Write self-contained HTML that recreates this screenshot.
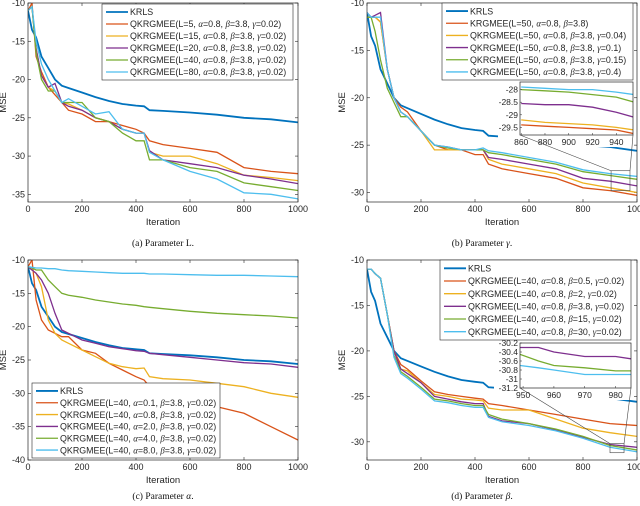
<!DOCTYPE html>
<html><head><meta charset="utf-8"><style>
html,body{margin:0;padding:0;background:#fff;}
svg{display:block;font-family:"Liberation Sans",sans-serif;}
</style></head><body>
<svg id="fig" width="640" height="506" viewBox="0 0 640 506" xmlns="http://www.w3.org/2000/svg"></svg>
<script>
const iters = [0,15,30,50,75,100,125,150,200,250,300,350,400,430,450,500,600,700,800,900,1000];
const colors = ['#0072BD','#D95319','#EDB120','#7E2F8E','#77AC30','#4DBEEE'];
const krls = [-11,-13.5,-14.5,-17,-18.5,-20,-20.8,-21.1,-21.7,-22.3,-22.8,-23.2,-23.4,-23.5,-24,-24.1,-24.3,-24.6,-25,-25.2,-25.6];
// Panel a
const aL5  = [-11,-10,-17,-19,-21,-22,-23,-24,-24.5,-25.5,-25.5,-26,-26.5,-27,-28,-28.5,-29,-29.5,-31.5,-32,-32.3];
const aL15 = [-11,-10.5,-16,-19.5,-21,-21.5,-23,-23.2,-24,-25,-25.5,-26.5,-27,-27,-29.5,-30,-30,-31,-32.5,-32.8,-33.2];
const aL20 = [-11,-10.5,-16,-19.5,-21,-20.5,-23,-23.5,-24,-25,-25.5,-26.5,-27,-27,-29.3,-30.5,-31,-31.5,-32.5,-33,-33.6];
const aL40 = [-11,-10.5,-16.5,-20,-21.5,-21.5,-23,-23,-23,-25,-25.5,-27,-28,-28,-30.5,-30.5,-31.5,-32,-33.5,-34,-34.5];
const aL80 = [-11,-10.5,-15,-18,-20,-21.5,-23,-22.5,-23.5,-24.5,-24.2,-26.5,-27,-27,-29.5,-30.5,-32,-33,-34.8,-35,-35.6];
// Panel b
const bK   = [-11.5,-11.5,-11.5,-12,-17,-20,-21,-21.5,-23.5,-25,-25.5,-25.5,-26,-26,-27,-27.5,-28,-28.5,-29.5,-29.8,-30.3];
const bG04 = [-11.5,-11.5,-11.5,-12,-17,-20,-21.5,-22,-23.5,-25.5,-25.5,-25.5,-25.5,-25.5,-26.5,-27,-27.5,-28,-29,-29.5,-30];
const bG1  = [-11,-11.5,-11.3,-11,-17,-20,-21.5,-22,-23.5,-25,-25.2,-25.5,-25.5,-25.5,-26.3,-26.5,-27,-27.5,-28.5,-28.8,-29.3];
const bG15 = [-11.5,-11.5,-13,-16,-19,-20.5,-22,-22,-23.5,-25,-25.3,-25.5,-25.5,-25.5,-25.8,-26,-26.5,-27,-27.8,-28.2,-28.6];
const bG4  = [-11,-11.5,-11.5,-11.5,-17,-20,-21.5,-22,-23.5,-25,-25.2,-25.5,-25.5,-25.3,-25.6,-25.8,-26.3,-26.8,-27.6,-28,-28.3];
const bInsetX = [860,880,900,920,940,955];
const bInK   = [-29.4,-29.45,-29.5,-29.55,-29.6,-29.75];
const bInG04 = [-29.2,-29.3,-29.35,-29.4,-29.5,-29.6];
const bInG1  = [-28.55,-28.6,-28.6,-28.7,-28.9,-29.1];
const bInG15 = [-28,-28.05,-28.1,-28.2,-28.3,-28.5];
const bInG4  = [-27.9,-27.95,-28,-28,-28.1,-28.2];
// Panel c
const cA01 = [-11,-10,-16,-19,-20.5,-21,-21.5,-21.5,-23.5,-24,-25.5,-26.5,-27.5,-28,-29,-30,-31,-32,-33,-35,-37];
const cA08 = [-11,-11.5,-12,-14,-19,-21,-22,-22.5,-23.5,-24.5,-25.5,-26,-26.3,-26.2,-27.5,-27.8,-28,-28.5,-29,-30,-30.6];
const cA2  = [-11,-11.5,-12,-13,-15,-18,-20.5,-21,-22,-22.5,-23,-23.3,-23.6,-23.7,-24,-24.2,-24.6,-25,-25.4,-25.6,-26.1];
const cA4  = [-11,-11.2,-11.5,-11.5,-13,-14,-15,-15.3,-15.6,-16,-16.3,-16.6,-16.8,-17,-17.1,-17.3,-17.7,-18,-18.2,-18.4,-18.7];
const cA8  = [-11,-11.1,-11.2,-11.2,-11.3,-11.3,-11.5,-11.6,-11.7,-11.8,-11.9,-12,-12,-12,-12.1,-12.1,-12.2,-12.3,-12.3,-12.4,-12.5];
// Panel d
const dB05 = [-11,-11,-11.5,-12,-16,-20,-21.5,-22,-23.3,-24.5,-24.8,-25,-25.2,-25.3,-25.8,-26,-26.5,-27,-27.5,-28,-28.2];
const dB2  = [-11,-11,-11.5,-12,-16,-20,-22,-22.2,-23.5,-24.8,-25,-25.3,-25.4,-25.5,-26.3,-26.5,-26.5,-27.5,-28.5,-29,-29.4];
const dB38 = [-11,-11,-11.5,-12,-16,-20,-22,-22.5,-23.5,-25,-25.3,-25.6,-25.8,-25.8,-27.2,-27.7,-28,-28.7,-29.5,-30.3,-30.6];
const dB15 = [-11,-11,-11.5,-12,-16,-20.5,-22.3,-22.8,-24,-25.3,-25.5,-25.8,-26,-26,-27,-27.5,-28,-28.6,-29.4,-30.4,-30.9];
const dB30 = [-11,-11,-11.5,-12,-16,-20.7,-22.5,-23,-24.2,-25.5,-25.7,-26,-26.2,-26.2,-27.3,-27.8,-28.2,-28.8,-29.6,-30.6,-31.1];
const dInsetX = [949,955,960,970,980,985];
const dInB38 = [-30.3,-30.3,-30.4,-30.5,-30.5,-30.55];
const dInB15 = [-30.45,-30.6,-30.7,-30.75,-30.82,-30.82];
const dInB30 = [-30.7,-30.75,-30.8,-30.9,-30.9,-30.9];

const NS='http://www.w3.org/2000/svg';
const fig=document.getElementById('fig');
function mk(tag,attrs,parent){const e=document.createElementNS(NS,tag);for(const k in attrs)e.setAttribute(k,attrs[k]);(parent||fig).appendChild(e);return e;}
function drawText(parent,x,y,str,opts){
  const t=mk('text',Object.assign({x:x,y:y,'font-size':9,fill:'#262626'},opts||{}),parent);
  const parts=str.split(/([αβγ])/);
  parts.forEach(p=>{if(!p)return;const ts=mk('tspan',{},t);if(/[αβγ]/.test(p)){ts.setAttribute('font-style','italic');ts.setAttribute('font-family','Liberation Serif');}ts.textContent=p;});
  return t;
}

function panel(cfg){
  const g=mk('g',{});
  
  
  const L=cfg.L,R=cfg.R,T=cfg.T,B=cfg.B;
  const sx=v=>L+(v-cfg.x0)/(cfg.x1-cfg.x0)*(R-L);
  const sy=v=>T+(cfg.y1-v)/(cfg.y1-cfg.y0)*(B-T);
  mk('rect',{x:L,y:T,width:R-L,height:B-T,fill:'#fff'},g);
  const clip='clip'+cfg.id;
  const cp=mk('clipPath',{id:clip},g);mk('rect',{x:L,y:T,width:R-L,height:B-T},cp);
  cfg.yt.forEach(v=>{const y=sy(v);mk('line',{x1:L,x2:L+3,y1:y,y2:y,stroke:'#262626','stroke-width':0.6},g);mk('line',{x1:R,x2:R-3,y1:y,y2:y,stroke:'#262626','stroke-width':0.6},g);
    const t=mk('text',{x:L-3,y:y+3,'font-size':9,'text-anchor':'end',fill:'#262626'},g);t.textContent=v;});
  cfg.xt.forEach(v=>{const x=sx(v);mk('line',{x1:x,x2:x,y1:B,y2:B-3,stroke:'#262626','stroke-width':0.6},g);mk('line',{x1:x,x2:x,y1:T,y2:T+3,stroke:'#262626','stroke-width':0.6},g);
    const t=mk('text',{x:x,y:B+10,'font-size':9,'text-anchor':'middle',fill:'#262626'},g);t.textContent=v;});
  const cg=mk('g',{'clip-path':'url(#'+clip+')'},g);
  cfg.series.forEach((s,i)=>{
    const d=s.map((v,j)=>(j?'L':'M')+sx(iters[j]).toFixed(1)+','+sy(v).toFixed(1)).join('');
    const p=mk('path',{d:d,fill:'none',stroke:colors[i],'stroke-width':i==0?1.8:1.3},cg);
    
  });
  if(cfg.zoomRect){const z=cfg.zoomRect;mk('rect',{x:sx(z[0]),y:sy(z[2]),width:sx(z[1])-sx(z[0]),height:sy(z[3])-sy(z[2]),fill:'none',stroke:'#444','stroke-width':0.6},g);}
  mk('rect',{x:L,y:T,width:R-L,height:B-T,fill:'none',stroke:'#262626','stroke-width':0.7},g);
  const yl=mk('text',{x:cfg.ylx,y:(T+B)/2,'font-size':9.5,'text-anchor':'middle',fill:'#262626',transform:`rotate(-90 ${cfg.ylx} ${(T+B)/2})`},g);
  yl.textContent='MSE';
  const xl=mk('text',{x:(L+R)/2,y:B+23,'font-size':9.5,'text-anchor':'middle',fill:'#262626'},g);
  xl.textContent='Iteration';
  if(cfg.inset){const n=cfg.inset;
    const ix=v=>n.L+(v-n.x0)/(n.x1-n.x0)*(n.R-n.L), iy=v=>n.T+(n.y1-v)/(n.y1-n.y0)*(n.B-n.T);
    const z=cfg.zoomRect;
    const ig=mk('g',{},g);
    mk('rect',{x:n.L-n.pad,y:n.T-3,width:n.R-n.L+n.pad,height:n.B-n.T+15,fill:'#fff'},ig);
    mk('line',{x1:sx(z[0]),y1:sy(z[2]),x2:n.L,y2:n.B,stroke:'#444','stroke-width':0.6},g);
    mk('line',{x1:sx(z[1]),y1:sy(z[2]),x2:n.R,y2:n.B,stroke:'#444','stroke-width':0.6},g);
    const ic='iclip'+cfg.id;const icp=mk('clipPath',{id:ic},ig);mk('rect',{x:n.L,y:n.T,width:n.R-n.L,height:n.B-n.T},icp);
    const icg=mk('g',{'clip-path':'url(#'+ic+')'},ig);
    n.series.forEach((s,i)=>{if(!s)return;const d=s.map((v,j)=>(j?'L':'M')+ix(n.xs[j]).toFixed(1)+','+iy(v).toFixed(1)).join('');
      const p=mk('path',{d:d,fill:'none',stroke:colors[i],'stroke-width':1.3},icg);});
    n.yt.forEach(v=>{const t=mk('text',{x:n.L-2,y:iy(v)+3,'font-size':8.5,'text-anchor':'end',fill:'#262626'},ig);t.textContent=v;
      mk('line',{x1:n.L,x2:n.L+2,y1:iy(v),y2:iy(v),stroke:'#262626','stroke-width':0.5},ig);});
    n.xt.forEach(v=>{const t=mk('text',{x:ix(v),y:n.B+10,'font-size':8.5,'text-anchor':'middle',fill:'#262626'},ig);t.textContent=v;
      mk('line',{x1:ix(v),x2:ix(v),y1:n.B,y2:n.B-2,stroke:'#262626','stroke-width':0.5},ig);});
    mk('rect',{x:n.L,y:n.T,width:n.R-n.L,height:n.B-n.T,fill:'none',stroke:'#262626','stroke-width':0.7},ig);
  }
  const lg=mk('g',{},g);
  const lb=cfg.leg;
  mk('rect',{x:lb[0],y:lb[1],width:lb[2]-lb[0],height:lb[3]-lb[1],fill:'#fff',stroke:'#262626','stroke-width':0.6},lg);
  const step=(lb[3]-lb[1]-4)/cfg.labels.length;
  cfg.labels.forEach((s,i)=>{const y=lb[1]+2+step*(i+0.5);
    mk('line',{x1:lb[0]+4,x2:lb[0]+26,y1:y,y2:y,stroke:colors[i],'stroke-width':i==0?1.8:1.3},lg);
    const t=drawText(lg,lb[0]+28,y+3.2,s,{'font-size':8.9});});
  const c=mk('text',{x:(L+R)/2+(cfg.capdx||0),y:cfg.capy,'font-size':9.5,'text-anchor':'middle','font-family':'Liberation Serif',fill:'#111'},g);
  
  c.textContent=cfg.cap[0];const ts=mk('tspan',{'font-style':cfg.cap[2]?'italic':'normal'},c);ts.textContent=cfg.cap[1];const t2=mk('tspan',{},c);t2.textContent='.';
}
panel({id:'a',name:'panel-a-parameter-L',L:28,R:298,T:3,B:202,x0:0,x1:1000,y0:-36,y1:-10,yt:[-10,-15,-20,-25,-30,-35],xt:[0,200,400,600,800,1000],
  series:[krls,aL5,aL15,aL20,aL40,aL80],ylx:6,leg:[102,4,293,80],capy:246,cap:['(a)  Parameter ','L',false],
  labels:['KRLS','QKRGMEE(L=5, α=0.8, β=3.8, γ=0.02)','QKRGMEE(L=15, α=0.8, β=3.8, γ=0.02)','QKRGMEE(L=20, α=0.8, β=3.8, γ=0.02)','QKRGMEE(L=40, α=0.8, β=3.8, γ=0.02)','QKRGMEE(L=80, α=0.8, β=3.8, γ=0.02)']});
panel({id:'b',name:'panel-b-parameter-gamma',L:367,R:637,T:3,B:202,x0:0,x1:1000,y0:-31,y1:-10,yt:[-10,-15,-20,-25,-30],xt:[0,200,400,600,800,1000],
  series:[krls,bK,bG04,bG1,bG15,bG4],ylx:345,leg:[442,3,633,80],capy:246,capdx:-20,cap:['(b)  Parameter ','γ',true],
  zoomRect:[904,974,-27.7,-29.8],
  inset:{L:520,R:633,T:82,B:135,pad:22,x0:859,x1:954,y0:-29.8,y1:-27.7,xs:bInsetX,series:[null,bInK,bInG04,bInG1,bInG15,bInG4],yt:[-28,-28.5,-29,-29.5],xt:[860,880,900,920,940]},
  labels:['KRLS','KRGMEE(L=50, α=0.8, β=3.8)','QKRGMEE(L=50, α=0.8, β=3.8, γ=0.04)','QKRGMEE(L=50, α=0.8, β=3.8, γ=0.1)','QKRGMEE(L=50, α=0.8, β=3.8, γ=0.15)','QKRGMEE(L=50, α=0.8, β=3.8, γ=0.4)']});
panel({id:'c',name:'panel-c-parameter-alpha',L:28,R:298,T:260,B:460,x0:0,x1:1000,y0:-40,y1:-10,yt:[-10,-15,-20,-25,-30,-35,-40],xt:[0,200,400,600,800,1000],
  series:[krls,cA01,cA08,cA2,cA4,cA8],ylx:6,leg:[32,383,220,458],capy:499,cap:['(c)  Parameter ','α',true],
  labels:['KRLS','QKRGMEE(L=40, α=0.1, β=3.8, γ=0.02)','QKRGMEE(L=40, α=0.8, β=3.8, γ=0.02)','QKRGMEE(L=40, α=2.0, β=3.8, γ=0.02)','QKRGMEE(L=40, α=4.0, β=3.8, γ=0.02)','QKRGMEE(L=40, α=8.0, β=3.8, γ=0.02)']});
panel({id:'d',name:'panel-d-parameter-beta',L:367,R:637,T:260,B:460,x0:0,x1:1000,y0:-32,y1:-10,yt:[-10,-15,-20,-25,-30],xt:[0,200,400,600,800,1000],
  series:[krls,dB05,dB2,dB38,dB15,dB30],ylx:345,leg:[440,260,631,340],capy:499,capdx:-20,cap:['(d)  Parameter ','β',true],
  zoomRect:[900,952,-30.2,-31.2],
  inset:{L:520,R:631,T:343,B:388,pad:26,x0:949,x1:985,y0:-31.2,y1:-30.2,xs:dInsetX,series:[null,null,null,dInB38,dInB15,dInB30],yt:[-30.2,-30.4,-30.6,-30.8,-31,-31.2],xt:[950,960,970,980]},
  labels:['KRLS','QKRGMEE(L=40, α=0.8, β=0.5, γ=0.02)','QKRGMEE(L=40, α=0.8, β=2, γ=0.02)','QKRGMEE(L=40, α=0.8, β=3.8, γ=0.02)','QKRGMEE(L=40, α=0.8, β=15, γ=0.02)','QKRGMEE(L=40, α=0.8, β=30, γ=0.02)']});
</script>
</body></html>
